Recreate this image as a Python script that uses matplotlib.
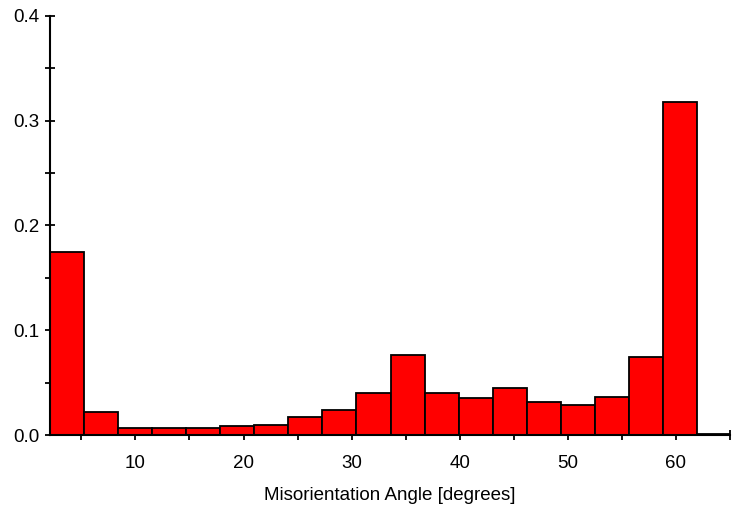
import matplotlib
matplotlib.use("Agg")
import matplotlib.pyplot as plt
from matplotlib.ticker import MultipleLocator, FuncFormatter

# Data
bin_edges = [2.1, 5.25, 8.4, 11.55, 14.7, 17.85, 21.0, 24.15, 27.3, 30.45, 33.6,
             36.75, 39.9, 43.05, 46.2, 49.35, 52.5, 55.65, 58.8, 61.95, 65.1]
frequencies = [0.1745, 0.022, 0.0064, 0.0064, 0.0064, 0.0083, 0.0096, 0.0169,
               0.0236, 0.0398, 0.0764, 0.0398, 0.035, 0.0446, 0.0312, 0.0283,
               0.0363, 0.0745, 0.3174, 0.0008]
x_label = "Misorientation Angle [degrees]"

plt.rcParams['font.family'] = ['Liberation Sans', 'DejaVu Sans']

fig = plt.figure(figsize=(7.33, 5.12), dpi=100)
ax = fig.add_axes([50 / 733, 77 / 512, 680 / 733, 419.3 / 512])

lefts = bin_edges[:-1]
widths = [bin_edges[i + 1] - bin_edges[i] for i in range(len(lefts))]
ax.bar(lefts, frequencies, width=widths, align='edge', color='#ff0000',
       edgecolor='black', linewidth=1.3, zorder=2)

ax.set_xlim(2.1, 65.0)
ax.set_ylim(0, 0.4)

for s in ['top', 'right']:
    ax.spines[s].set_visible(False)
for s in ['left', 'bottom']:
    ax.spines[s].set_linewidth(1.5)
    ax.spines[s].set_zorder(3)

ax.xaxis.set_major_locator(MultipleLocator(5))
ax.xaxis.set_major_formatter(FuncFormatter(lambda v, p: f"{int(round(v))}" if round(v) % 10 == 0 else ""))
ax.yaxis.set_major_locator(MultipleLocator(0.05))
ax.yaxis.set_major_formatter(FuncFormatter(lambda v, p: f"{v:.1f}" if abs(round(v * 20)) % 2 == 0 else ""))

ax.tick_params(axis='both', direction='inout', length=7, width=1.3, labelsize=13.5,
               colors='black')
ax.tick_params(axis='x', pad=11)
ax.tick_params(axis='y', pad=4)

ax.set_xlabel(x_label, fontsize=13.5, labelpad=11)

fig.savefig("out.png", dpi=100, facecolor='white')
